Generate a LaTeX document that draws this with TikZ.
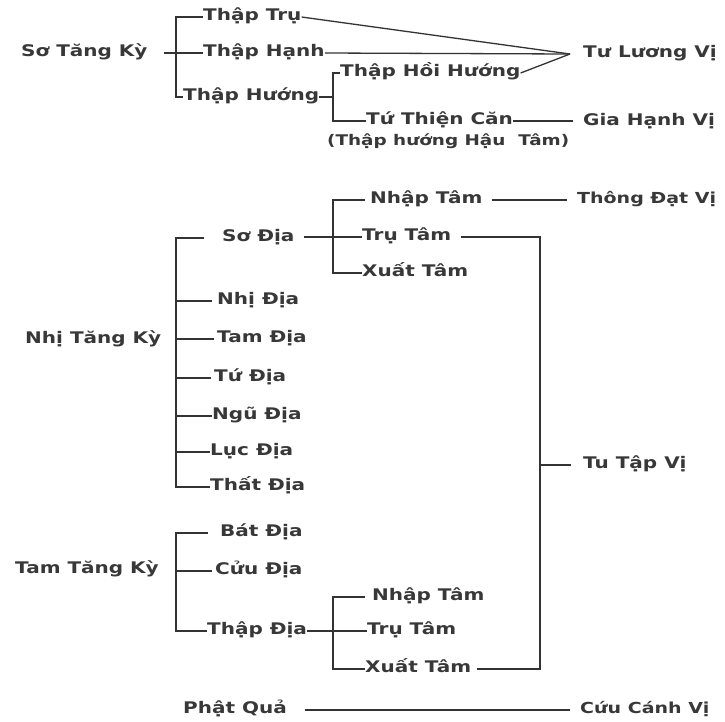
\documentclass[tikz,border=0pt]{standalone}
\usepackage{fontspec}
\setmainfont{DejaVu Sans Bold}[FakeStretch=1.25]
\begin{document}
\begin{tikzpicture}[x=1pt,y=-1pt,
  lbl/.style={anchor=west,inner sep=0pt,text height=0.73em,text depth=0pt,font=\fontsize{16}{19}\selectfont,text=black!78},
  small/.style={font=\fontsize{14.7}{18}\selectfont},
  narrow/.style={font=\fontsize{15.2}{18}\selectfont},
  conn/.style={draw=black!80,line width=1.3pt}]
\useasboundingbox[fill=white] (0,0) rectangle (725,721);
% ---------- top ----------
\node[lbl] (sotk) at (21,53) {Sơ Tăng Kỳ};
\node[lbl] (tru) at (203,17) {Thập Trụ};
\node[lbl] (hanh) at (203,53) {Thập Hạnh};
\node[lbl] (huong) at (183,97) {Thập Hướng};
\node[lbl] (hoi) at (340,73) {Thập Hồi Hướng};
\node[lbl] (thien) at (366,121) {Tứ Thiện Căn};
\node[lbl,small] (note) at (327,142) {(Thập hướng Hậu\ \ Tâm)};
\node[lbl] (tlv) at (583,54) {Tư Lương Vị};
\node[lbl] (ghv) at (583,122) {Gia Hạnh Vị};
\coordinate (conv) at (570,54);
\coordinate (s0) at (164,53);
\coordinate (b1a) at (176,17);
\coordinate (b1m) at (176,53);
\coordinate (b1b) at (176,97);
\coordinate (b2a) at (333,73);
\coordinate (b2m) at (333,97);
\coordinate (b2b) at (333,121);
\coordinate (gend) at (573,121);
\draw[conn] (s0) -- (b1m) -- (hanh.west);
\draw[conn] (tru.west) -- (b1a) -- (b1b) -- (huong.west);
\draw[conn] (tru.east) -- (conv);
\draw[conn] (hanh.east) -- (conv);
\draw[conn] (hoi.east) -- (conv);
\draw[conn] (huong.east) -- (b2m);
\draw[conn] (hoi.west) -- (b2a) -- (b2b) -- (thien.west);
\draw[conn] (thien.east) -- (gend);
% ---------- middle ----------
\node[lbl] (nhitk) at (25,340) {Nhị Tăng Kỳ};
\node[lbl] (d1) at (222,238) {Sơ Địa};
\node[lbl] (d2) at (217,301) {Nhị Địa};
\node[lbl] (d3) at (217,339) {Tam Địa};
\node[lbl] (d4) at (214,378) {Tứ Địa};
\node[lbl] (d5) at (212,416) {Ngũ Địa};
\node[lbl] (d6) at (210,452) {Lục Địa};
\node[lbl] (d7) at (210,487) {Thất Địa};
\coordinate (m1) at (176,238);
\coordinate (m2) at (176,301);
\coordinate (m3) at (176,339);
\coordinate (m4) at (176,378);
\coordinate (m5) at (176,416);
\coordinate (m6) at (176,452);
\coordinate (m7) at (176,487);
\draw[conn] ([xshift=-18pt]d1.west) -- (m1) -- (m7) -- (d7.west);
\draw[conn] (m2) -- ([xshift=-5pt]d2.west);
\draw[conn] (m3) -- ([xshift=-3pt]d3.west);
\draw[conn] (m4) -- ([xshift=-3pt]d4.west);
\draw[conn] (m5) -- (d5.west);
\draw[conn] (m6) -- (d6.west);
\node[lbl] (nt1) at (370,200) {Nhập Tâm};
\node[lbl] (tt1) at (362,237) {Trụ Tâm};
\node[lbl] (xt1) at (362,273) {Xuất Tâm};
\node[lbl,narrow] (tdv) at (577,200) {Thông Đạt Vị};
\coordinate (c1a) at (333,200);
\coordinate (c1m) at (333,237);
\coordinate (c1b) at (333,273);
\draw[conn] ([xshift=9pt]d1.east |- c1m) -- (c1m) -- (tt1.west);
\draw[conn] ([xshift=-5pt]nt1.west) -- (c1a) -- (c1b) -- (xt1.west);
\draw[conn] ([xshift=9pt]nt1.east) -- ([xshift=-10pt]tdv.west);
% ---------- bottom ----------
\node[lbl] (tamtk) at (15,570) {Tam Tăng Kỳ};
\node[lbl] (d8) at (220,533) {Bát Địa};
\node[lbl] (d9) at (215,571) {Cửu Địa};
\node[lbl] (d10) at (207,631) {Thập Địa};
\coordinate (k1) at (176,533);
\coordinate (k2) at (176,571);
\coordinate (k3) at (176,631);
\draw[conn] ([xshift=-12pt]d8.west) -- (k1) -- (k3) -- (d10.west);
\draw[conn] (k2) -- ([xshift=-3pt]d9.west);
\node[lbl] (nt2) at (372,597) {Nhập Tâm};
\node[lbl] (tt2) at (367,631) {Trụ Tâm};
\node[lbl] (xt2) at (365,669) {Xuất Tâm};
\coordinate (c2a) at (333,597);
\coordinate (c2m) at (333,631);
\coordinate (c2b) at (333,669);
\draw[conn] (d10.east) -- (c2m) -- (tt2.west);
\draw[conn] ([xshift=-7pt]nt2.west) -- (c2a) -- (c2b) -- (xt2.west);
% ---------- Tu Tap Vi ----------
\node[lbl] (ttv) at (583,465) {Tu Tập Vị};
\coordinate (r1) at (540,237);
\coordinate (r2) at (540,669);
\coordinate (rm) at (540,465);
\draw[conn] ([xshift=10pt]tt1.east) -- (r1) -- (r2) -- ([xshift=6pt]xt2.east);
\draw[conn] (rm) -- ([xshift=-12pt]ttv.west);
% ---------- Phat Qua ----------
\node[lbl] (pq) at (183,710) {Phật Quả};
\node[lbl,narrow] (ccv) at (580,710) {Cứu Cánh Vị};
\draw[conn] ([xshift=18pt]pq.east) -- ([xshift=-10pt]ccv.west);
\end{tikzpicture}
\end{document}
